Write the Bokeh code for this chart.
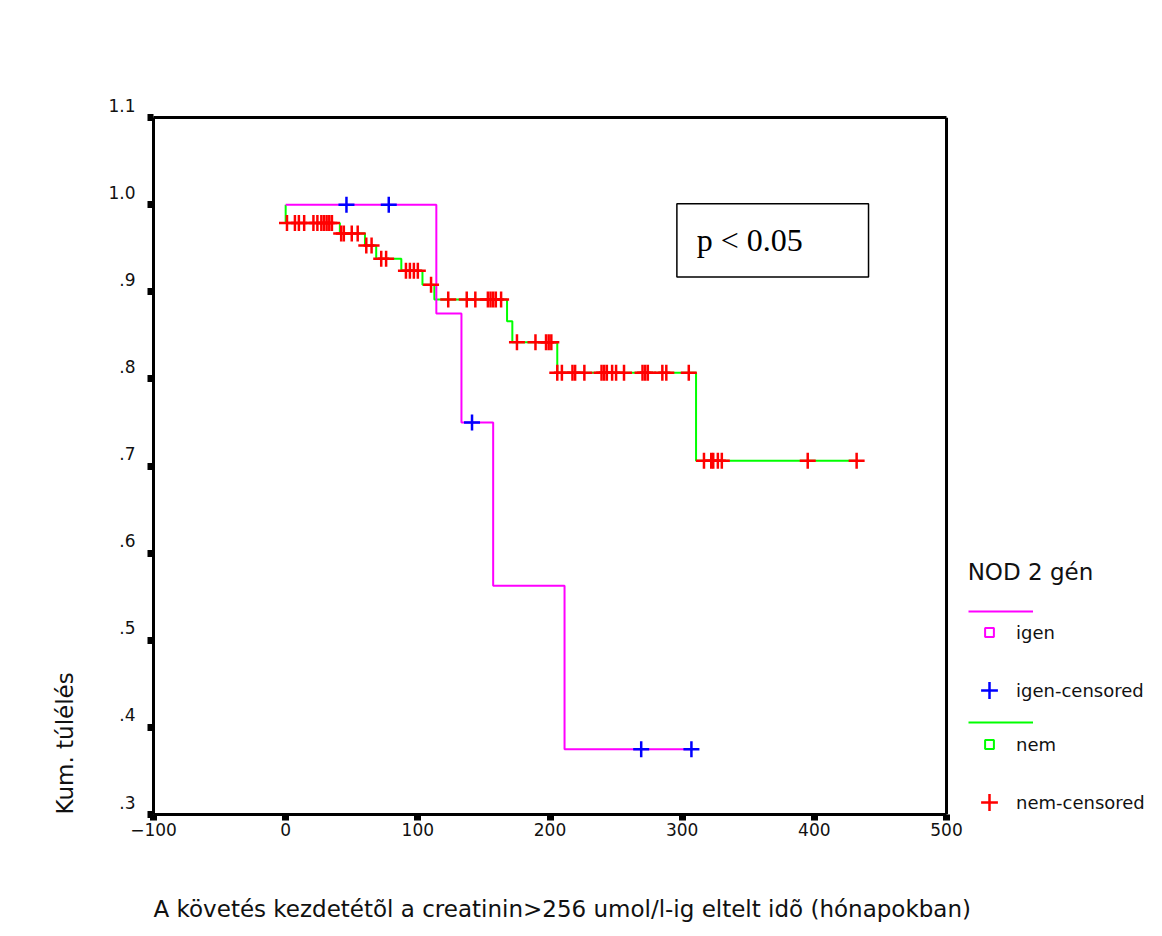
from bokeh.plotting import figure
from bokeh.models import (FixedTicker, Title, Label, BoxAnnotation, Legend, LegendItem,
                          ColumnDataSource, LinearAxis, Span)
from bokeh.embed import file_html
from bokeh.resources import INLINE

# ---------------- data ----------------
igen_time = [0, 114, 133, 157, 211, 308]
igen_surv = [1.0, 0.875, 0.750, 0.5625, 0.375, 0.375]
igen_cens_time = [46, 78, 141, 269, 307]
igen_cens_surv = [1.0, 1.0, 0.750, 0.375, 0.375]

nem_time = [0, 0, 41, 60, 68.5, 87.5, 103.5, 112.5, 167.5, 171.5, 205.5, 310.5, 432]
nem_surv = [1.0, 0.979, 0.967, 0.953, 0.938, 0.924, 0.908, 0.891, 0.866, 0.842, 0.807, 0.706, 0.706]

nem_cens_time = [1, 7, 10, 14, 21, 24, 27, 29, 31, 33, 35,
                 42, 44, 50, 54.5,
                 61, 65,
                 72.3, 76,
                 91, 94, 97, 100,
                 110,
                 123, 137, 143.5, 153, 155, 157, 159, 163,
                 175, 189, 197, 199, 201,
                 205.5, 209, 217, 219, 226, 239, 241, 243, 247, 250, 256, 270, 272, 274, 285, 288, 305,
                 316.5, 322, 323.5, 327, 330, 395, 432]
nem_cens_surv = ([0.979] * 11 + [0.967] * 4 + [0.953] * 2 + [0.938] * 2 + [0.924] * 4 +
                 [0.908] * 1 + [0.891] * 8 + [0.842] * 5 + [0.807] * 17 + [0.706] * 7)

x_ticks = [-100, 0, 100, 200, 300, 400, 500]
x_labels = ["\u2212100", "0", "100", "200", "300", "400", "500"]
y_ticks = [0.3, 0.4, 0.5, 0.6, 0.7, 0.8, 0.9, 1.0, 1.1]
y_labels = [".3", ".4", ".5", ".6", ".7", ".8", ".9", "1.0", "1.1"]

x_title = "A követés kezdetétõl a  creatinin>256 umol/l-ig eltelt idõ (hónapokban)"
y_title = "Kum. túlélés"
legend_title = "NOD 2 gén"
series_names = ["igen", "igen-censored", "nem", "nem-censored"]
p_text = "p < 0.05"

MAGENTA = "#ff00ff"
GREEN = "#00ff00"
BLUE = "#0000ff"
RED = "#ff0000"
FONT = "DejaVu Sans"

X_MIN, X_MAX = -100, 500          # visible axis extent
X_VIEW_END = 651.32               # frame also holds the legend area to the right

# ---------------- figure ----------------
p = figure(frame_width=993, frame_height=697,
           min_border_left=153, min_border_top=117, min_border_right=0, min_border_bottom=119,
           x_range=(X_MIN, X_VIEW_END), y_range=(0.3, 1.1),
           output_backend="svg", toolbar_location=None,
           background_fill_color="white", border_fill_color="white")
p.xgrid.visible = False
p.ygrid.visible = False
p.outline_line_color = None

for ax in (p.xaxis[0], p.yaxis[0]):
    ax.axis_line_width = 3
    ax.axis_line_color = "black"
    ax.major_tick_in = 0
    ax.major_tick_out = 6
    ax.major_tick_line_width = 7
    ax.major_tick_line_color = "black"
    ax.minor_tick_line_color = None
    ax.major_label_text_font = FONT
    ax.major_label_text_font_size = "17px"
    ax.major_label_text_color = "#111111"

xa = p.xaxis[0]
xa.bounds = (X_MIN, X_MAX)
xa.ticker = FixedTicker(ticks=x_ticks)
xa.major_label_overrides = dict(zip(x_ticks, x_labels))
xa.major_label_standoff = 2

ya = p.yaxis[0]
ya.ticker = FixedTicker(ticks=y_ticks)
# labels sit just above their tick, as in the original
ya.major_label_overrides = {t: lab + "\n" for t, lab in zip(y_ticks, y_labels)}
ya.major_label_standoff = 12

# empty axis used only as vertical spacing before the x title
spacer = LinearAxis(ticker=FixedTicker(ticks=[]), axis_line_color=None,
                    major_tick_line_color=None, minor_tick_line_color=None,
                    major_tick_in=0, major_tick_out=0, major_label_standoff=0,
                    major_label_text_color=None,
                    axis_label=" ", axis_label_standoff=24,
                    axis_label_text_font=FONT, axis_label_text_font_size="23px")
p.add_layout(spacer, "below")
# x title, starting at the left edge of the plot box
p.add_layout(Title(text=x_title, align="left", offset=0, standoff=4,
                   text_font=FONT, text_font_size="23px", text_font_style="normal",
                   text_color="#111111"), "below")

# top edge of the plot box
top = LinearAxis(bounds=(X_MIN, X_MAX), ticker=FixedTicker(ticks=[]),
                 axis_line_width=3, axis_line_color="black",
                 major_tick_line_color=None, minor_tick_line_color=None,
                 major_label_text_color=None)
p.add_layout(top, "above")
# right edge of the plot box
p.add_layout(Span(location=X_MAX, dimension="height", line_color="black", line_width=3))

p.add_layout(Title(text=y_title, align="left", offset=0, standoff=55,
                   text_font=FONT, text_font_size="23px", text_font_style="normal",
                   text_color="#111111"), "left")

# ---------------- curves ----------------
igen_src = ColumnDataSource(dict(t=igen_time, s=igen_surv))
nem_src = ColumnDataSource(dict(t=nem_time, s=nem_surv))
igen_c = ColumnDataSource(dict(t=igen_cens_time, s=igen_cens_surv))
nem_c = ColumnDataSource(dict(t=nem_cens_time, s=nem_cens_surv))

r_nem = p.step(x="t", y="s", source=nem_src, mode="after", line_color=GREEN, line_width=2)
r_igen = p.step(x="t", y="s", source=igen_src, mode="after", line_color=MAGENTA, line_width=2)
r_nem_c = p.scatter(x="t", y="s", source=nem_c, marker="cross", size=16,
                    line_color=RED, line_width=2.5)
r_igen_c = p.scatter(x="t", y="s", source=igen_c, marker="cross", size=16,
                     line_color=BLUE, line_width=2.5)

# square renderers with no drawable point, used only as legend symbols
NAN = float("nan")
sq_igen = p.scatter(x=[NAN], y=[NAN], marker="square", size=9, fill_color=None,
                    line_color=MAGENTA, line_width=2)
sq_nem = p.scatter(x=[NAN], y=[NAN], marker="square", size=9, fill_color=None,
                   line_color=GREEN, line_width=2)

# ---------------- p-value box ----------------
p.add_layout(BoxAnnotation(left=296, right=441, top=1.001, bottom=0.917,
                           fill_color="white", fill_alpha=1.0,
                           line_color="black", line_alpha=1.0, line_width=1.5))
p.add_layout(Label(x=311, y=0.959, text=p_text, text_font="Liberation Serif",
                   text_font_size="32px", text_baseline="middle", text_color="black"))

# ---------------- legend ----------------
p.add_layout(Label(x=516, y=0.578, text=legend_title, text_font=FONT,
                   text_font_size="23px", text_baseline="middle", text_color="#111111"))


def add_entry(label, renderers, loc, gw, gh, standoff):
    lg = Legend(items=[LegendItem(label=label, renderers=renderers)], location=loc,
                glyph_width=gw, glyph_height=gh, label_height=gh, label_width=10,
                padding=0, margin=0, spacing=0, label_standoff=standoff,
                border_line_alpha=0, background_fill_alpha=0,
                label_text_font=FONT, label_text_font_size="18px",
                label_text_color="#111111")
    p.add_layout(lg)


add_entry(" ", [r_igen], (815, 198), 65, 10, 0)
add_entry(series_names[0], [sq_igen], (825, 171), 22, 22, 16)
add_entry(series_names[1], [r_igen_c], (815, 103), 42, 42, 6)
add_entry(" ", [r_nem], (815, 87), 65, 10, 0)
add_entry(series_names[2], [sq_nem], (825, 59), 22, 22, 16)
add_entry(series_names[3], [r_nem_c], (815, -9), 42, 42, 6)

open("out.html", "w").write(file_html(p, INLINE))
